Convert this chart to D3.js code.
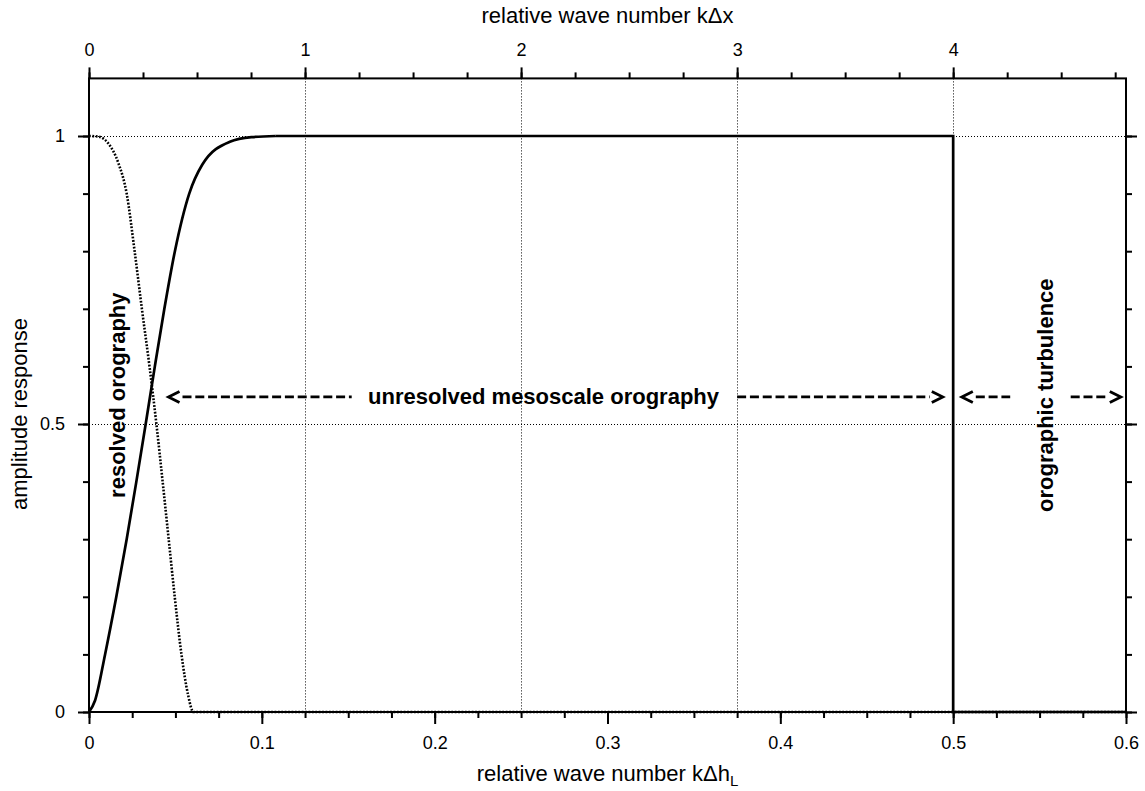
<!DOCTYPE html>
<html>
<head>
<meta charset="utf-8">
<script src="https://cdn.jsdelivr.net/npm/d3@7"></script>
<style>
body { margin: 0; background: #fff; }
text { font-family: "Liberation Sans", Arial, Helvetica, sans-serif; fill: #000; }
</style>
</head>
<body>
<script>
// values
// solid curve: smooth rise (mesoscale filter), then step down at k=0.5
var riseK = [0, 0.0035, 0.0093, 0.0158, 0.0218, 0.0274, 0.0328, 0.0381, 0.0436, 0.0497, 0.058, 0.0655, 0.0815, 0.094, 0.108];
var riseA = [0, 0.02, 0.1, 0.2, 0.3, 0.4, 0.5, 0.6, 0.7, 0.8, 0.9, 0.95, 0.99, 0.998, 1];
var stepK = [0.108, 0.5, 0.5, 0.6];
var stepA = [1, 1, 0, 0];
// dotted curve: resolved orography filter
var dotK = [0, 0.0054, 0.0112, 0.017, 0.0218, 0.0264, 0.0306, 0.035, 0.039, 0.0426, 0.0461, 0.0496, 0.0535, 0.0573, 0.0604, 0.6];
var dotA = [1, 0.999, 0.987, 0.953, 0.9, 0.8, 0.7, 0.6, 0.5, 0.4, 0.3, 0.2, 0.1, 0.03, 0, 0];

var bottomTicks = [0, 0.1, 0.2, 0.3, 0.4, 0.5, 0.6];
var bottomLabels = ["0", "0.1", "0.2", "0.3", "0.4", "0.5", "0.6"];
var topTicks = [0, 1, 2, 3, 4];
var leftTicks = [0, 0.5, 1];
var leftLabels = ["0", "0.5", "1"];

var width = 1145, height = 791;

var x = d3.scaleLinear().domain([0, 0.6]).range([89, 1126]);
var x2 = d3.scaleLinear().domain([0, 4.8]).range([89, 1126]);
var y = d3.scaleLinear().domain([0, 1.1]).range([712, 78.4]);

var svg = d3.select("body").append("svg")
    .attr("width", width)
    .attr("height", height);

var zip = function(a, b){ return a.map(function(v, i){ return [v, b[i]]; }); };

// grid (dotted), at the kΔx major ticks and amplitude major ticks
var grid = svg.append("g").attr("class", "grid")
    .attr("stroke", "#000").attr("stroke-width", 1).attr("stroke-dasharray", "1,2");
grid.selectAll("line.v").data(topTicks).enter().append("line")
    .attr("class", "v")
    .attr("x1", function(d){ return Math.round(x2(d)) + 0.5; })
    .attr("x2", function(d){ return Math.round(x2(d)) + 0.5; })
    .attr("y1", y(1.1)).attr("y2", y(0));
grid.selectAll("line.h").data(leftTicks).enter().append("line")
    .attr("class", "h")
    .attr("x1", x(0)).attr("x2", x(0.6))
    .attr("y1", function(d){ return Math.round(y(d)) + 0.5; })
    .attr("y2", function(d){ return Math.round(y(d)) + 0.5; });

// curves
var line = d3.line()
    .x(function(d){ return x(d[0]); })
    .y(function(d){ return y(d[1]); });

svg.append("path")
    .datum(zip(dotK, dotA))
    .attr("fill", "none").attr("stroke", "#000")
    .attr("stroke-width", 2.6).attr("stroke-dasharray", "1.8,1.6")
    .attr("d", line.curve(d3.curveMonotoneX));

svg.append("path")
    .datum(zip(riseK, riseA))
    .attr("fill", "none").attr("stroke", "#000").attr("stroke-width", 2.7)
    .attr("d", line.curve(d3.curveMonotoneX));

svg.append("path")
    .datum(zip(stepK, stepA))
    .attr("fill", "none").attr("stroke", "#000").attr("stroke-width", 2.7)
    .attr("d", line.curve(d3.curveLinear));

// axes
var styleAxis = function(g, size){
    g.select(".domain").remove();
    g.selectAll(".tick line").attr("stroke", "#000").attr("stroke-width", 2);
    g.selectAll(".tick text").attr("font-size", size).attr("fill", "#000");
};

var minorBottom = d3.range(0, 25).map(function(i){ return i * 0.025; });
var minorTop = d3.range(0, 20).map(function(i){ return i * 0.25; });
var minorLeft = d3.range(0, 11).map(function(i){ return i * 0.1; });

svg.append("g").attr("transform", "translate(0," + y(0) + ")")
    .call(d3.axisBottom(x).tickValues(minorBottom).tickSize(6).tickFormat(""))
    .call(styleAxis, 18);
svg.append("g").attr("transform", "translate(0," + y(0) + ")")
    .call(d3.axisBottom(x).tickValues(bottomTicks).tickSize(12).tickPadding(12)
        .tickFormat(function(d, i){ return bottomLabels[i]; }))
    .call(styleAxis, 18);

svg.append("g").attr("transform", "translate(0," + y(1.1) + ")")
    .call(d3.axisTop(x2).tickValues(minorTop).tickSize(6).tickFormat(""))
    .call(styleAxis, 18);
svg.append("g").attr("transform", "translate(0," + y(1.1) + ")")
    .call(d3.axisTop(x2).tickValues(topTicks).tickSize(11).tickPadding(11).tickFormat(d3.format("d")))
    .call(styleAxis, 18);

svg.append("g").attr("transform", "translate(" + x(0) + ",0)")
    .call(d3.axisLeft(y).tickValues(minorLeft).tickSize(6).tickFormat(""))
    .call(styleAxis, 18);
svg.append("g").attr("transform", "translate(" + x(0) + ",0)")
    .call(d3.axisLeft(y).tickValues(leftTicks).tickSize(11).tickPadding(13)
        .tickFormat(function(d, i){ return leftLabels[i]; }))
    .call(styleAxis, 18);

svg.append("g").attr("transform", "translate(" + x(0.6) + ",0)")
    .call(d3.axisRight(y).tickValues(minorLeft).tickSize(6).tickFormat(""))
    .call(styleAxis, 18);
svg.append("g").attr("transform", "translate(" + x(0.6) + ",0)")
    .call(d3.axisRight(y).tickValues(leftTicks).tickSize(11).tickFormat(""))
    .call(styleAxis, 18);

// frame
svg.append("rect")
    .attr("x", x(0)).attr("y", y(1.1))
    .attr("width", x(0.6) - x(0)).attr("height", y(0) - y(1.1))
    .attr("fill", "none").attr("stroke", "#000").attr("stroke-width", 2);

// axis titles
svg.append("text")
    .attr("x", (x(0) + x(0.6)) / 2).attr("y", 23)
    .attr("text-anchor", "middle").attr("font-size", 22)
    .text("relative wave number kΔx");

var bt = svg.append("text")
    .attr("x", (x(0) + x(0.6)) / 2).attr("y", 781)
    .attr("text-anchor", "middle").attr("font-size", 22);
bt.append("tspan").text("relative wave number kΔh");
bt.append("tspan").attr("dy", 5).attr("font-size", 15).text("L");

svg.append("text")
    .attr("transform", "translate(27,414) rotate(-90)")
    .attr("text-anchor", "middle").attr("font-size", 22)
    .text("amplitude response");

// annotations
var annY = 0.547;
var arrow = function(k0, k1, dir){
    var yy = y(annY), a = x(k0), b = x(k1);
    var g = svg.append("g").attr("stroke", "#000").attr("stroke-width", 2.8).attr("fill", "none");
    if (dir < 0){
        g.append("path").attr("d", "M" + (a + 11) + "," + (yy - 5.5) + "L" + a + "," + yy + "L" + (a + 11) + "," + (yy + 5.5));
        g.append("line").attr("x1", a + 14).attr("x2", b).attr("y1", yy).attr("y2", yy)
            .attr("stroke-dasharray", "9,3.8");
    } else {
        g.append("line").attr("x1", a).attr("x2", b - 13).attr("y1", yy).attr("y2", yy)
            .attr("stroke-dasharray", "9,3.8");
        g.append("path").attr("d", "M" + (b - 11) + "," + (yy - 5.5) + "L" + b + "," + yy + "L" + (b - 11) + "," + (yy + 5.5));
    }
};

arrow(0.046, 0.152, -1);
arrow(0.375, 0.494, 1);
arrow(0.505, 0.533, -1);
arrow(0.568, 0.597, 1);

svg.append("text")
    .attr("x", x(0.263)).attr("y", y(annY) + 7)
    .attr("text-anchor", "middle").attr("font-size", 22).attr("font-weight", "bold")
    .text("unresolved mesoscale orography");

svg.append("text")
    .attr("transform", "translate(" + x(0.0208) + "," + y(0.55) + ") rotate(-90)")
    .attr("text-anchor", "middle").attr("font-size", 22).attr("font-weight", "bold")
    .text("resolved orography");

svg.append("text")
    .attr("transform", "translate(" + x(0.5575) + "," + y(0.55) + ") rotate(-90)")
    .attr("text-anchor", "middle").attr("font-size", 22).attr("font-weight", "bold")
    .text("orographic turbulence");
</script>
</body>
</html>
